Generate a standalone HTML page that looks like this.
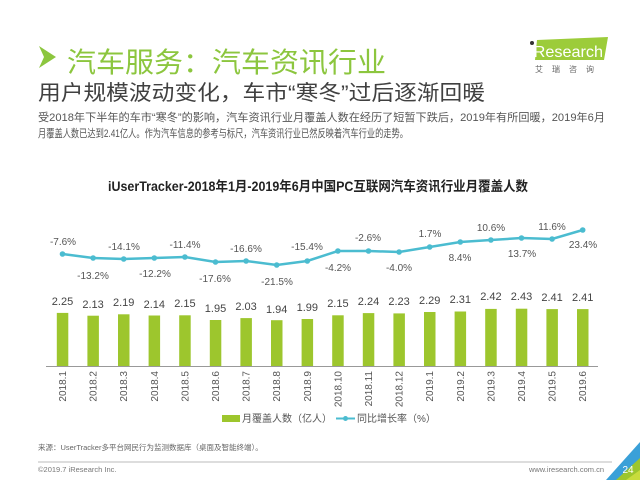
<!DOCTYPE html>
<html><head><meta charset="utf-8"><style>html,body{margin:0;padding:0;background:#fff}svg{display:block}text{font-family:"Liberation Sans","Noto Sans CJK SC",sans-serif}</style></head><body>
<svg width="640" height="480" viewBox="0 0 640 480" xmlns="http://www.w3.org/2000/svg">
<!-- header -->
<polygon points="39,46 56,57 39,68 44,57" fill="#8cc63e"/>
<text x="67" y="72" font-size="28" fill="#8cc63e" textLength="319" lengthAdjust="spacingAndGlyphs">汽车服务：汽车资讯行业</text>
<text x="38" y="100" font-size="21" fill="#404040" textLength="447" lengthAdjust="spacingAndGlyphs">用户规模波动变化，车市“寒冬”过后逐渐回暖</text>
<text x="38" y="121" font-size="11" fill="#555" textLength="567" lengthAdjust="spacingAndGlyphs">受2018年下半年的车市“寒冬”的影响，汽车资讯行业月覆盖人数在经历了短暂下跌后，2019年有所回暖，2019年6月</text>
<text x="38" y="137" font-size="11" fill="#555" textLength="370" lengthAdjust="spacingAndGlyphs">月覆盖人数已达到2.41亿人。作为汽车信息的参考与标尺，汽车资讯行业已然反映着汽车行业的走势。</text>
<!-- logo -->
<polygon points="537,40 608,37 604,60 535,60" fill="#9ccc3a"/>
<circle cx="532" cy="43" r="2" fill="#333"/>
<text x="530" y="57" font-size="16" fill="#fff" textLength="73" lengthAdjust="spacingAndGlyphs">iResearch</text>
<text x="535" y="72" font-size="8" fill="#666" letter-spacing="9">艾瑞咨询</text>
<!-- chart title -->
<text x="318" y="191" font-size="13.5" font-weight="bold" fill="#222" text-anchor="middle" textLength="420" lengthAdjust="spacingAndGlyphs">iUserTracker-2018年1月-2019年6月中国PC互联网汽车资讯行业月覆盖人数</text>
<!-- bars -->
<g fill="#9dc62d">
<rect x="56.8" y="312.9" width="11.5" height="53.1"/>
<rect x="87.4" y="315.7" width="11.5" height="50.3"/>
<rect x="118" y="314.3" width="11.5" height="51.7"/>
<rect x="148.6" y="315.5" width="11.5" height="50.5"/>
<rect x="179.2" y="315.3" width="11.5" height="50.7"/>
<rect x="209.8" y="320" width="11.5" height="46"/>
<rect x="240.4" y="318.1" width="11.5" height="47.9"/>
<rect x="271" y="320.2" width="11.5" height="45.8"/>
<rect x="301.6" y="319" width="11.5" height="47"/>
<rect x="332.2" y="315.3" width="11.5" height="50.7"/>
<rect x="362.8" y="313.1" width="11.5" height="52.9"/>
<rect x="393.4" y="313.4" width="11.5" height="52.6"/>
<rect x="424" y="312" width="11.5" height="54"/>
<rect x="454.6" y="311.5" width="11.5" height="54.5"/>
<rect x="485.2" y="308.9" width="11.5" height="57.1"/>
<rect x="515.8" y="308.7" width="11.5" height="57.3"/>
<rect x="546.4" y="309.1" width="11.5" height="56.9"/>
<rect x="577" y="309.1" width="11.5" height="56.9"/>
</g>
<line x1="46" y1="366.5" x2="598" y2="366.5" stroke="#999" stroke-width="1"/>
<g font-size="11" fill="#444" text-anchor="middle">
<text x="62.5" y="305">2.25</text><text x="93.1" y="308">2.13</text><text x="123.7" y="306">2.19</text><text x="154.3" y="308">2.14</text><text x="184.9" y="307">2.15</text><text x="215.5" y="312">1.95</text><text x="246.1" y="310">2.03</text><text x="276.7" y="313">1.94</text><text x="307.3" y="311">1.99</text><text x="337.9" y="307">2.15</text><text x="368.5" y="305">2.24</text><text x="399.1" y="305">2.23</text><text x="429.7" y="304">2.29</text><text x="460.3" y="303">2.31</text><text x="490.9" y="300">2.42</text><text x="521.5" y="300">2.43</text><text x="552.1" y="301">2.41</text><text x="582.7" y="301">2.41</text>
</g>
<!-- x labels rotated -->
<g font-size="10" fill="#555" text-anchor="end">
<text transform="translate(66,371) rotate(-90)">2018.1</text><text transform="translate(96.6,371) rotate(-90)">2018.2</text><text transform="translate(127.2,371) rotate(-90)">2018.3</text><text transform="translate(157.8,371) rotate(-90)">2018.4</text><text transform="translate(188.4,371) rotate(-90)">2018.5</text><text transform="translate(219,371) rotate(-90)">2018.6</text><text transform="translate(249.6,371) rotate(-90)">2018.7</text><text transform="translate(280.2,371) rotate(-90)">2018.8</text><text transform="translate(310.8,371) rotate(-90)">2018.9</text><text transform="translate(341.4,371) rotate(-90)">2018.10</text><text transform="translate(372,371) rotate(-90)">2018.11</text><text transform="translate(402.6,371) rotate(-90)">2018.12</text><text transform="translate(433.2,371) rotate(-90)">2019.1</text><text transform="translate(463.8,371) rotate(-90)">2019.2</text><text transform="translate(494.4,371) rotate(-90)">2019.3</text><text transform="translate(525,371) rotate(-90)">2019.4</text><text transform="translate(555.6,371) rotate(-90)">2019.5</text><text transform="translate(586.2,371) rotate(-90)">2019.6</text>
</g>
<!-- line -->
<polyline fill="none" stroke="#4bbcd0" stroke-width="2.5" points="62.5,254 93.1,258 123.7,259 154.3,258 184.9,257 215.5,262 246.1,261 276.7,265 307.3,261 337.9,251 368.5,251 399.1,252 429.7,247 460.3,242 490.9,240 521.5,238 552.1,239 582.7,230"/>
<g fill="#4bbcd0">
<circle cx="62.5" cy="254" r="2.8"/><circle cx="93.1" cy="258" r="2.8"/><circle cx="123.7" cy="259" r="2.8"/><circle cx="154.3" cy="258" r="2.8"/><circle cx="184.9" cy="257" r="2.8"/><circle cx="215.5" cy="262" r="2.8"/><circle cx="246.1" cy="261" r="2.8"/><circle cx="276.7" cy="265" r="2.8"/><circle cx="307.3" cy="261" r="2.8"/><circle cx="337.9" cy="251" r="2.8"/><circle cx="368.5" cy="251" r="2.8"/><circle cx="399.1" cy="252" r="2.8"/><circle cx="429.7" cy="247" r="2.8"/><circle cx="460.3" cy="242" r="2.8"/><circle cx="490.9" cy="240" r="2.8"/><circle cx="521.5" cy="238" r="2.8"/><circle cx="552.1" cy="239" r="2.8"/><circle cx="582.7" cy="230" r="2.8"/>
</g>
<g font-size="10" fill="#555" text-anchor="middle">
<text x="63" y="245">-7.6%</text><text x="93" y="279">-13.2%</text><text x="124" y="250">-14.1%</text><text x="155" y="277">-12.2%</text><text x="185" y="248">-11.4%</text><text x="215" y="282">-17.6%</text><text x="246" y="252">-16.6%</text><text x="277" y="285">-21.5%</text><text x="307" y="250">-15.4%</text><text x="338" y="271">-4.2%</text><text x="368" y="241">-2.6%</text><text x="399" y="271">-4.0%</text><text x="430" y="237">1.7%</text><text x="460" y="261">8.4%</text><text x="491" y="231">10.6%</text><text x="522" y="257">13.7%</text><text x="552" y="230">11.6%</text><text x="583" y="248">23.4%</text>
</g>
<!-- legend -->
<rect x="222" y="415" width="18" height="7" fill="#9dc62d"/>
<text x="242" y="422" font-size="10" fill="#555">月覆盖人数（亿人）</text>
<line x1="336" y1="418.5" x2="355" y2="418.5" stroke="#4bbcd0" stroke-width="2"/>
<circle cx="345.5" cy="418.5" r="2.5" fill="#4bbcd0"/>
<text x="357" y="422" font-size="10" fill="#555">同比增长率（%）</text>
<!-- footer -->
<text x="38" y="450" font-size="7.5" fill="#666">来源：UserTracker多平台网民行为监测数据库（桌面及智能终端）。</text>
<line x1="38" y1="462" x2="612" y2="462" stroke="#bbb" stroke-width="1"/>
<text x="38" y="472" font-size="7.5" fill="#777">©2019.7 iResearch Inc.</text>
<text x="604" y="472" font-size="7.5" fill="#777" text-anchor="end">www.iresearch.com.cn</text>
<polygon points="640,442 640,480 606,480" fill="#3aa0d8"/>
<polygon points="640,458 640,480 616,480" fill="#9dc62d"/>
<polygon points="626,480 640,470 640,480" fill="#c8dc3c"/>
<text x="628" y="473" font-size="10" fill="#fff" text-anchor="middle">24</text>
</svg>
</body></html>
